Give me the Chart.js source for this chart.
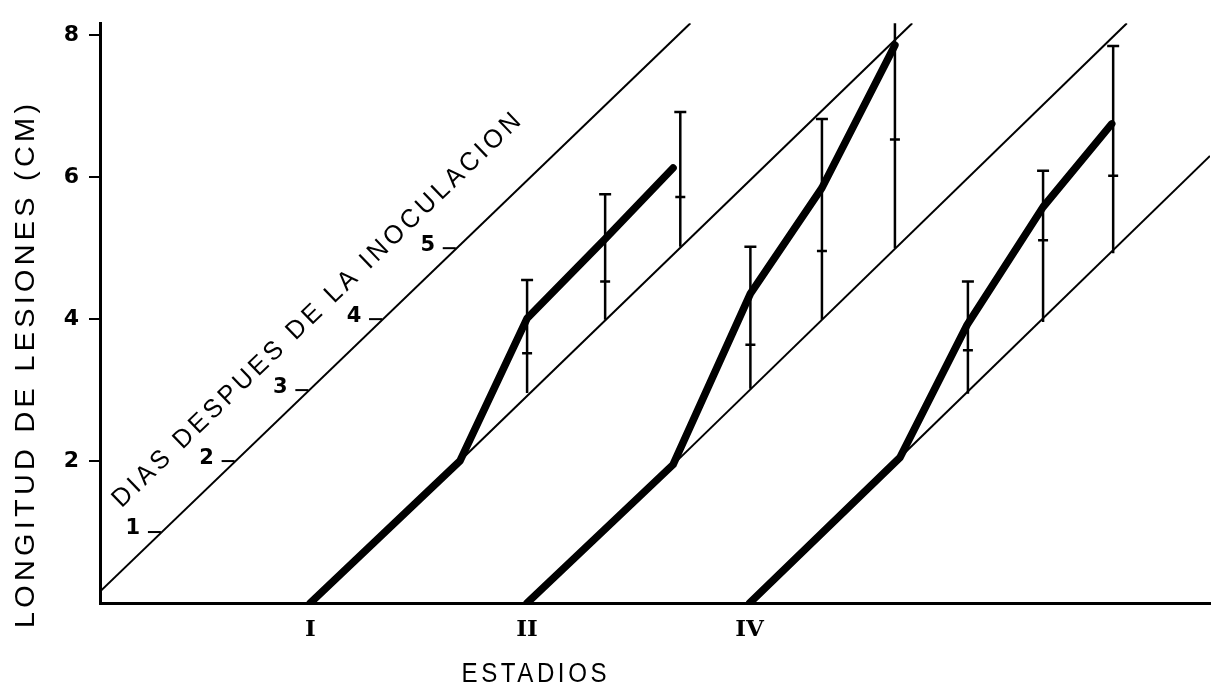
<!DOCTYPE html>
<html>
<head>
<meta charset="utf-8">
<script src="https://cdn.jsdelivr.net/npm/chart.js@4.4.1/dist/chart.umd.min.js"></script>
<style>
  html, body { margin: 0; padding: 0; background: #fff; }
  #wrap { width: 1223px; height: 697px; }
</style>
</head>
<body>
<div id="wrap"><canvas id="lesionChart" width="1223" height="697"></canvas></div>
<script>
// stages along the x axis
const stageLabels = ['I', 'II', 'IV'];
const stagePos = [2.91, 5.91, 8.99];

// lesion length for each stage (thick lines)
const stageIx = [2.91, 4.98, 5.91, 6.99, 7.93];
const stageIy = [0, 2.0, 4.01, 5.13, 6.13];
const stageIIx = [5.91, 7.93, 9.0, 9.99, 11.0];
const stageIIy = [0, 1.95, 4.36, 5.85, 7.86];
const stageIVx = [8.99, 11.07, 12.0, 13.05, 14.0];
const stageIVy = [0, 2.05, 3.92, 5.58, 6.75];

// vertical bars: top cap, middle mark, lower end (on the guide line)
const barX = [5.91, 6.99, 8.03, 9.0, 9.99, 11.0, 12.01, 13.05, 14.02];
const barTop = [4.55, 5.76, 6.92, 5.02, 6.82, 8.4, 4.53, 6.09, 7.85];
const barMid = [3.52, 4.53, 5.72, 3.64, 4.96, 6.53, 3.56, 5.11, 6.02];
const barLow = [2.96, 3.99, 5.02, 3.02, 3.99, 5.0, 2.95, 3.96, 4.93];

// thin diagonal guide lines
const guideX0 = [0, 4.98, 7.93, 11.07];
const guideY0 = [0.16, 2.0, 1.95, 2.05];
const guideX1 = [8.17, 11.24, 14.21, 15.36];
const guideY1 = [8.17, 8.17, 8.17, 6.3];

// days marked on the first guide line
const dayLabels = ['1', '2', '3', '4', '5'];
const dayValues = [1, 2, 3, 4, 5];

const yTicks = [2, 4, 6, 8];

const textFont = '"Liberation Sans", Arial, sans-serif';

function toPoints(xs, ys) {
    return xs.map((x, i) => ({ x: x, y: ys[i] }));
}

// letter-spaced text squeezed to a given width
function spacedText(ctx, text, x, y, angle, width, size, spacing) {
    ctx.save();
    ctx.font = size + 'px ' + textFont;
    ctx.letterSpacing = spacing + 'px';
    const w = ctx.measureText(text).width - spacing;
    ctx.translate(x, y);
    ctx.rotate(angle);
    ctx.scale(width / w, 1);
    ctx.textAlign = 'left';
    ctx.textBaseline = 'middle';
    ctx.fillStyle = '#000';
    ctx.fillText(text, -w / 2, 0);
    ctx.restore();
}

const textPlugin = {
    id: 'textPlugin',
    afterDraw(chart) {
        const ctx = chart.ctx;
        const xs = chart.scales.x, ys = chart.scales.y;

        spacedText(ctx, 'LONGITUD DE LESIONES (CM)', 27, 366, -Math.PI / 2, 524, 27, 4);
        spacedText(ctx, 'ESTADIOS', 534, 675, 0, 145, 27, 4);

        // angle of the first guide line in pixels
        const ax0 = xs.getPixelForValue(guideX0[0]), ay0 = ys.getPixelForValue(guideY0[0]);
        const ax1 = xs.getPixelForValue(guideX1[0]), ay1 = ys.getPixelForValue(guideY1[0]);
        const ang = Math.atan2(ay1 - ay0, ax1 - ax0);
        spacedText(ctx, 'DIAS DESPUES DE LA INOCULACION',
            xs.getPixelForValue(3.0), ys.getPixelForValue(4.12), ang, 556, 26, 4);

        // day ticks and numbers
        ctx.save();
        ctx.strokeStyle = '#000';
        ctx.fillStyle = '#000';
        ctx.lineWidth = 2;
        ctx.font = 'bold 21px "DejaVu Sans", sans-serif';
        ctx.textAlign = 'center';
        ctx.textBaseline = 'middle';
        dayValues.forEach((d, i) => {
            const dx = guideX0[0] + (d - guideY0[0]) * (guideX1[0] - guideX0[0]) / (guideY1[0] - guideY0[0]);
            const px = xs.getPixelForValue(dx), py = ys.getPixelForValue(d);
            ctx.beginPath();
            ctx.moveTo(px - 14, py);
            ctx.lineTo(px - 1, py);
            ctx.stroke();
            ctx.fillText(dayLabels[i], px - 29, py - 3);
        });
        ctx.restore();
    }
};

const datasets = [];

guideX0.forEach((x0, i) => {
    datasets.push({
        data: [{ x: x0, y: guideY0[i] }, { x: guideX1[i], y: guideY1[i] }],
        showLine: true, borderColor: '#000', borderWidth: 2, pointRadius: 0
    });
});

barX.forEach((x, i) => {
    datasets.push({
        data: [{ x: x, y: barLow[i] }, { x: x, y: barTop[i] }],
        showLine: true, borderColor: '#000', borderWidth: 2.5, pointRadius: 0
    });
});

datasets.push({
    data: toPoints(barX, barTop),
    pointStyle: 'line', pointRadius: 6, pointBorderWidth: 2.5,
    borderColor: '#000', backgroundColor: '#000'
});
datasets.push({
    data: toPoints(barX, barMid),
    pointStyle: 'line', pointRadius: 5, pointBorderWidth: 2.5,
    borderColor: '#000', backgroundColor: '#000'
});

[[stageIx, stageIy], [stageIIx, stageIIy], [stageIVx, stageIVy]].forEach(([xs, ys]) => {
    datasets.push({
        data: toPoints(xs, ys),
        showLine: true, borderColor: '#000', borderWidth: 7.5,
        borderCapStyle: 'round', borderJoinStyle: 'round',
        pointRadius: 0, tension: 0
    });
});

new Chart(document.getElementById('lesionChart').getContext('2d'), {
    type: 'scatter',
    data: { datasets: datasets },
    options: {
        responsive: false,
        animation: false,
        layout: { padding: { top: 13, right: 13, left: 0, bottom: 0 } },
        plugins: { legend: { display: false }, tooltip: { enabled: false } },
        scales: {
            x: {
                type: 'linear',
                min: 0,
                max: 15.36,
                afterBuildTicks: (scale) => { scale.ticks = stagePos.map(v => ({ value: v })); },
                afterFit: (scale) => { scale.height = 94; },
                grid: { display: false },
                border: { display: true, color: '#000', width: 3 },
                ticks: {
                    autoSkip: false,
                    maxRotation: 0,
                    padding: 5,
                    color: '#000',
                    font: { family: '"DejaVu Serif", "Liberation Serif", serif', weight: 'bold', size: 23 },
                    callback: (v, i) => stageLabels[i]
                }
            },
            y: {
                min: 0,
                max: 8.17,
                afterBuildTicks: (scale) => { scale.ticks = yTicks.map(v => ({ value: v })); },
                afterFit: (scale) => { scale.width = 100; },
                grid: { drawOnChartArea: false, drawTicks: true, tickLength: 11, color: '#000', lineWidth: 2 },
                border: { display: true, color: '#000', width: 3 },
                ticks: {
                    padding: 10,
                    color: '#000',
                    font: { family: '"DejaVu Sans", sans-serif', weight: 'bold', size: 22 }
                }
            }
        }
    },
    plugins: [textPlugin]
});
</script>
</body>
</html>
